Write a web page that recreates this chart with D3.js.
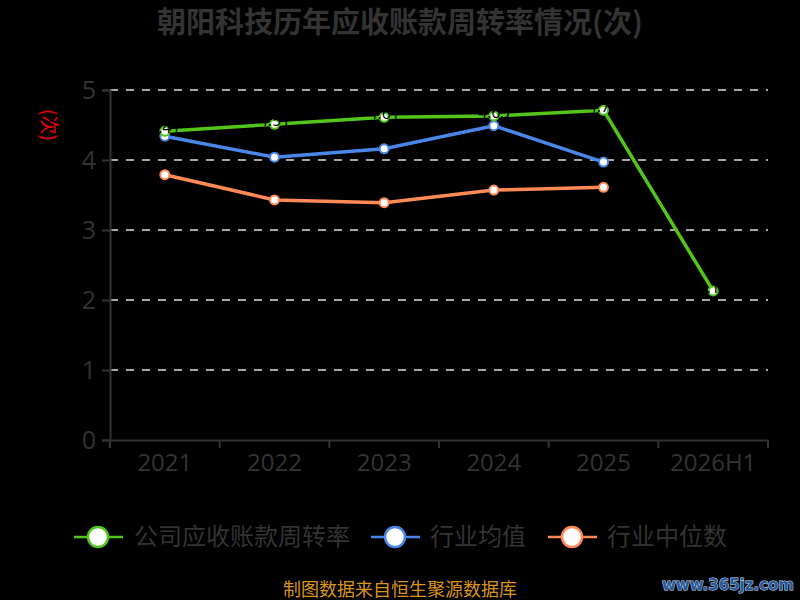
<!DOCTYPE html>
<html>
<head>
<meta charset="utf-8">
<script src="https://cdn.jsdelivr.net/npm/d3@7"></script>
<style>
  body { margin: 0; background: #000; }
  text { font-family: "Open Sans", "Noto Sans CJK SC", sans-serif; }
</style>
</head>
<body>
<div class="chart"></div>
<script>
// Data
const years = ['2021', '2022', '2023', '2024', '2025', '2026H1'];
const companyTurnover = [4.41, 4.51, 4.61, 4.63, 4.71, 2.13];
const industryAvg = [4.34, 4.04, 4.16, 4.49, 3.97];
const industryMedian = [3.79, 3.43, 3.39, 3.57, 3.61];
const yTicks = [0, 1, 2, 3, 4, 5];

const width = 800, height = 600, margin = { top: 90, right: 32, bottom: 160, left: 110 };
const svg = d3.select('.chart').append('svg')
    .attr('width', width)
    .attr('height', height)
    .style('background', '#000');

const xScale = d3.scaleBand().domain(years).range([margin.left, width - margin.right]);
const yScale = d3.scaleLinear().domain([0, 5]).range([height - margin.bottom, margin.top]);
const cx = d => xScale(d) + xScale.bandwidth() / 2;

// Title
svg.append('text')
    .attr('x', width / 2).attr('y', 33)
    .attr('text-anchor', 'middle')
    .style('font-size', '29px').style('font-weight', 'bold')
    .style('font-family', '"Noto Sans CJK SC", sans-serif')
    .attr('fill', '#333')
    .text('朝阳科技历年应收账款周转率情况(次)');

// Y axis unit label
svg.append('text')
    .attr('transform', 'translate(42,125) rotate(90)')
    .attr('text-anchor', 'middle')
    .style('font-size', '19px')
    .style('font-family', '"Noto Sans CJK SC", sans-serif')
    .attr('fill', '#e00')
    .text('(次)');

// Grid lines
svg.append('g').selectAll('line')
    .data(yTicks.filter(t => t > 0))
    .join('line')
    .attr('x1', margin.left).attr('x2', width - margin.right)
    .attr('y1', d => yScale(d)).attr('y2', d => yScale(d))
    .attr('stroke', '#ddd').attr('stroke-width', 1.5)
    .attr('stroke-dasharray', '8,8');

// Y axis
const yAxis = svg.append('g').attr('transform', `translate(${margin.left},0)`)
    .call(d3.axisLeft(yScale).tickValues(yTicks).tickFormat(d3.format('d')).tickSize(8).tickPadding(6));
yAxis.select('.domain').attr('stroke', '#333').attr('stroke-width', 2);
yAxis.selectAll('.tick line').attr('stroke', '#333').attr('stroke-width', 2);
yAxis.selectAll('text').attr('fill', '#333').style('font-size', '25px')
    .style('font-family', '"Open Sans", sans-serif').attr('dy', '0.35em');

// X axis
const xAxis = svg.append('g').attr('transform', `translate(0,${height - margin.bottom})`)
    .call(d3.axisBottom(xScale).tickSize(0).tickPadding(14));
xAxis.select('.domain').attr('stroke', '#333').attr('stroke-width', 2);
xAxis.selectAll('text').attr('fill', '#333').style('font-size', '24px')
    .style('font-family', '"Open Sans", sans-serif');
// boundary ticks between categories
svg.append('g').selectAll('line')
    .data(years.concat(['end']))
    .join('line')
    .attr('x1', (d, i) => margin.left + i * xScale.bandwidth())
    .attr('x2', (d, i) => margin.left + i * xScale.bandwidth())
    .attr('y1', height - margin.bottom).attr('y2', height - margin.bottom + 8)
    .attr('stroke', '#333').attr('stroke-width', 2);

// Series
const series = [
    { name: '公司应收账款周转率', color: '#52c41a', values: companyTurnover, labels: true },
    { name: '行业均值', color: '#4a86e8', values: industryAvg, labels: false },
    { name: '行业中位数', color: '#ff8a55', values: industryMedian, labels: false }
];

const lineGenerator = d3.line()
    .x((d, i) => cx(years[i]))
    .y(d => yScale(d));

// draw median first so company line is on top
series.slice().reverse().forEach(s => {
    svg.append('path')
        .datum(s.values)
        .attr('d', lineGenerator)
        .attr('fill', 'none')
        .attr('stroke', s.color)
        .attr('stroke-width', 3.5);

    svg.append('g').selectAll('circle')
        .data(s.values)
        .join('circle')
        .attr('cx', (d, i) => cx(years[i]))
        .attr('cy', d => yScale(d))
        .attr('r', 4.5)
        .attr('fill', '#fff')
        .attr('stroke', s.color)
        .attr('stroke-width', 2);

    if (s.labels) {
        svg.append('g').selectAll('text')
            .data(s.values)
            .join('text')
            .attr('x', (d, i) => cx(years[i]))
            .attr('y', d => yScale(d) + 2)
            .attr('text-anchor', 'middle')
            .style('font-size', '16px')
            .attr('fill', '#000')
            .text(d => d.toFixed(2));
    }
});

// Legend
const legendItems = [
    { x: 74, textX: 134 },
    { x: 371, textX: 430 },
    { x: 548, textX: 607 }
];
const legend = svg.append('g').attr('transform', 'translate(0,537)');
series.forEach((s, i) => {
    const g = legend.append('g');
    const lx = legendItems[i].x;
    g.append('line')
        .attr('x1', lx).attr('x2', lx + 49)
        .attr('y1', 0).attr('y2', 0)
        .attr('stroke', s.color).attr('stroke-width', 2.5);
    g.append('circle')
        .attr('cx', lx + 24).attr('cy', 0).attr('r', 10)
        .attr('fill', '#fff').attr('stroke', s.color).attr('stroke-width', 2.5);
    g.append('text')
        .attr('x', legendItems[i].textX).attr('y', 0).attr('dy', '0.35em')
        .style('font-size', '24px')
        .style('font-family', '"Noto Sans CJK SC", sans-serif')
        .attr('fill', '#333')
        .text(s.name);
});

// Footer
svg.append('text')
    .attr('x', 400).attr('y', 596)
    .attr('text-anchor', 'middle')
    .style('font-size', '18px')
    .style('font-family', '"Noto Sans CJK SC", sans-serif')
    .attr('fill', '#d9941c')
    .text('制图数据来自恒生聚源数据库');

// Watermark
svg.append('text')
    .attr('x', 794).attr('y', 590)
    .attr('text-anchor', 'end')
    .style('font-size', '15px').style('font-weight', 'bold')
    .style('font-family', '"DejaVu Sans", sans-serif')
    .attr('fill', '#2a5a9a')
    .attr('stroke', '#c8d8ee').attr('stroke-width', 1)
    .attr('paint-order', 'stroke')
    .text('www.365jz.com');
</script>
</body>
</html>
